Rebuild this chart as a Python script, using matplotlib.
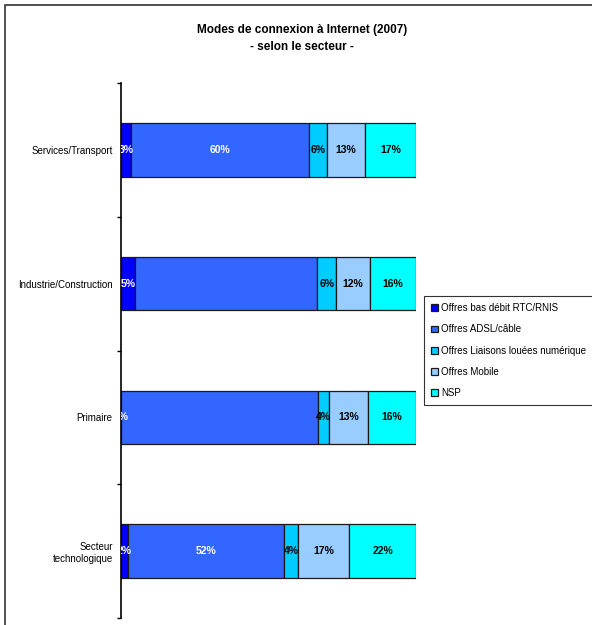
import numpy as np
import matplotlib
matplotlib.use("Agg")
import matplotlib.pyplot as plt
from matplotlib.patches import Rectangle

plt.rcParams['font.family'] = ['Liberation Sans', 'DejaVu Sans']

# sectors, bottom to top
sectors = ['Secteur\ntechnologique', 'Primaire', 'Industrie/Construction', 'Services/Transport']
series = ['Offres bas débit RTC/RNIS', 'Offres ADSL/câble',
          'Offres Liaisons louées numérique', 'Offres Mobile', 'NSP']
colors = ['#0000FF', '#3366FF', '#00CCFF', '#99CCFF', '#00FFFF']
text_colors = ['white', 'white', 'black', 'black', 'black']

# raw answers (%) per series, same order as sectors
rtc = [2.2, 0.0, 4.8, 3.4]
adsl = [52.4, 66.0, 63.0, 60.0]
liaisons = [4.4, 3.7, 6.4, 6.0]
mobile = [17.3, 13.0, 11.6, 13.0]
nsp = [22.3, 16.2, 16.0, 17.2]
# labels are not shown for these (series, sector) cells in the original
hidden = {(1, 1), (1, 2)}

values = np.array([rtc, adsl, liaisons, mobile, nsp])
shares = values / values.sum(axis=0) * 100  # 100 % stacked

fig = plt.figure(figsize=(5.92, 6.25), dpi=100)
ax = fig.add_axes([121 / 592, 7 / 625, 295 / 592, 535 / 625])

y = np.arange(len(sectors))
left = np.zeros(len(sectors))
handles = []
for i, name in enumerate(series):
    bars = ax.barh(y, shares[i], left=left, height=0.4, color=colors[i],
                   edgecolor='#1a1a1a', linewidth=0.9, label=name)
    handles.append(bars)
    for j in range(len(sectors)):
        if (i, j) in hidden:
            continue
        ax.text(left[j] + shares[i][j] / 2, y[j], f"{values[i][j]:.0f}%",
                ha='center', va='center', fontsize=7.5, fontweight='bold',
                color=text_colors[i], clip_on=True)
    left += shares[i]

ax.set_xlim(0, 100)
ax.set_ylim(-0.5, len(sectors) - 0.5)
ax.set_yticks(np.arange(-0.5, len(sectors), 1.0))
ax.set_yticklabels([])
ax.set_yticks(y, minor=True)
ax.set_yticklabels(sectors, minor=True, fontsize=7)
ax.tick_params(axis='y', which='minor', length=0, pad=6)
ax.tick_params(axis='y', which='major', length=3, width=1)
ax.set_xticks([])
for s in ['top', 'right', 'bottom']:
    ax.spines[s].set_visible(False)
ax.spines['left'].set_linewidth(1.2)

fig.text(302 / 592, 1 - 30 / 625, 'Modes de connexion à Internet (2007)',
         ha='center', va='center', fontsize=8.5, fontweight='bold')
fig.text(302 / 592, 1 - 47 / 625, '- selon le secteur -',
         ha='center', va='center', fontsize=8.5, fontweight='bold')

leg = fig.legend(handles=handles, loc='upper left',
                 bbox_to_anchor=(424 / 592, 1 - 296 / 625), fontsize=7,
                 frameon=True, fancybox=False, edgecolor='black',
                 handlelength=0.7, handleheight=0.7, handletextpad=0.3,
                 labelspacing=1.15, borderpad=0.75, borderaxespad=0)
leg.get_frame().set_linewidth(0.8)

# outer chart border
fig.patches.append(Rectangle((5 / 592, -0.05), 1.0, 1 - 5 / 625 + 0.05,
                             transform=fig.transFigure, fill=False,
                             edgecolor='#333333', linewidth=1.2))

fig.savefig('out.png', dpi=100)
